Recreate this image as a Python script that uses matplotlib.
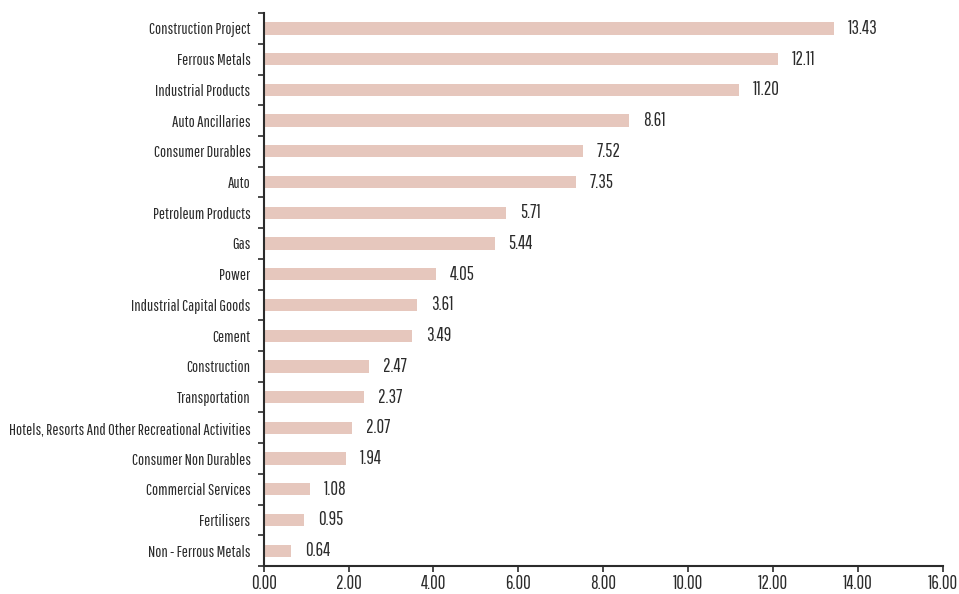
import matplotlib
matplotlib.use('Agg')
import matplotlib.pyplot as plt

# Sector names and their weights (%)
sectors = ['Construction Project', 'Ferrous Metals', 'Industrial Products',
           'Auto Ancillaries', 'Consumer Durables', 'Auto',
           'Petroleum Products', 'Gas', 'Power', 'Industrial Capital Goods',
           'Cement', 'Construction', 'Transportation',
           'Hotels, Resorts And Other Recreational Activities',
           'Consumer Non Durables', 'Commercial Services', 'Fertilisers',
           'Non - Ferrous Metals']
weights = [13.43, 12.11, 11.20, 8.61, 7.52, 7.35, 5.71, 5.44, 4.05, 3.61,
           3.49, 2.47, 2.37, 2.07, 1.94, 1.08, 0.95, 0.64]
x_ticks = [0, 2, 4, 6, 8, 10, 12, 14, 16]

# narrow gothic font, close to the condensed face of the original
plt.rcParams['font.family'] = ['Pathway Gothic One', 'DejaVu Sans']
text_col = '#2b2b2b'
fs = 11.7      # category labels
fs_num = 13.5  # digits are narrow in this font, so a bit larger

fig = plt.figure(figsize=(9.59, 5.94), dpi=100)
ax = fig.add_axes([0.275, 0.047, 0.708, 0.931])

pos = list(range(len(sectors)))
ax.barh(pos, weights, height=0.4, color='#e6c7bd')
for p, w in zip(pos, weights):
    ax.text(w + 0.33, p, f'{w:.2f}', va='center', ha='left',
            fontsize=fs_num, color=text_col)

ax.set_ylim(len(sectors) - 0.5, -0.5)
ax.set_xlim(0, 16)
ax.set_yticks(pos)
ax.set_yticklabels(sectors, fontsize=fs, color=text_col)
# tick marks sit between the categories
ax.set_yticks([p + 0.5 for p in range(-1, len(sectors))], minor=True)
ax.tick_params(axis='y', which='major', length=0, pad=9.5)
ax.tick_params(axis='y', which='minor', length=4, width=1.2, color=text_col)
ax.set_xticks(x_ticks)
ax.set_xticklabels([f'{t:.2f}' for t in x_ticks], fontsize=fs_num, color=text_col)
ax.tick_params(axis='x', length=4, width=1.2, color=text_col, pad=2)

for s in ['top', 'right']:
    ax.spines[s].set_visible(False)
for s in ['left', 'bottom']:
    ax.spines[s].set_color(text_col)
    ax.spines[s].set_linewidth(1.5)

fig.savefig('out.png', dpi=100)
